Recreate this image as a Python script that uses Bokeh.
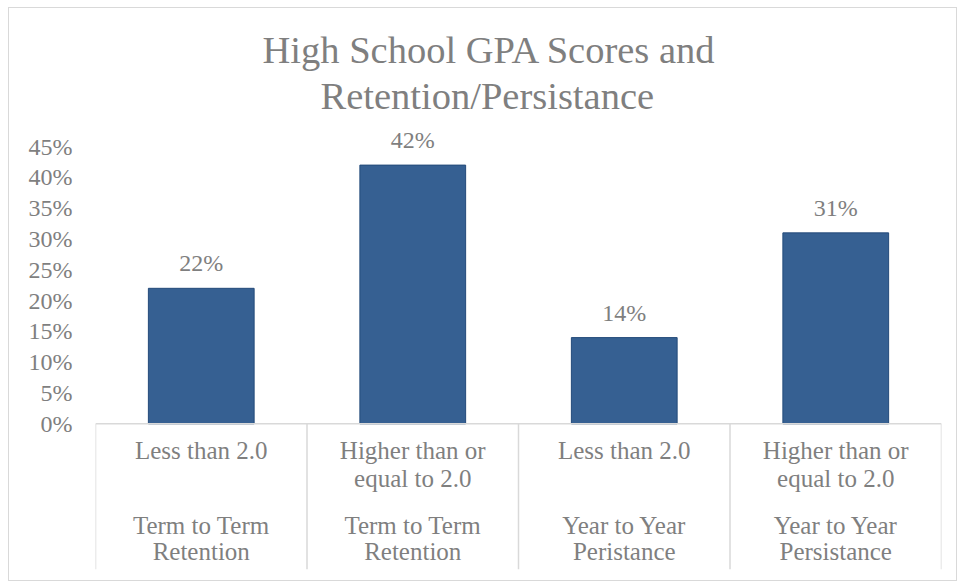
from bokeh.plotting import figure
from bokeh.models import Range1d, FixedTicker, NumeralTickFormatter, ColumnDataSource, Title
from bokeh.core.properties import value
from bokeh.embed import file_html
from bokeh.resources import INLINE

# ---- data ----
gpa_bands = ["Less than 2.0", "Higher than or\nequal to 2.0", "Less than 2.0", "Higher than or\nequal to 2.0"]
groups = ["Term to Term\nRetention", "Term to Term\nRetention", "Year to Year\nPeristance", "Year to Year\nPersistance"]
rates = [0.22, 0.42, 0.14, 0.31]
y_ticks = [0.0, 0.05, 0.10, 0.15, 0.20, 0.25, 0.30, 0.35, 0.40, 0.45]
title_lines = ["High School GPA Scores and", "Retention/Persistance"]

FONT = "Liberation Serif"
GRAY = "#7f7f7f"
LINE = "#d9d9d9"

n = len(rates)
y_axis_max = 0.45
px_per_unit = 276 / y_axis_max     # plot pixels per unit value
above_px = 28                       # room above the 45% tick for data labels
below_px = 145                      # room under the axis for category labels
y_top = y_axis_max + above_px / px_per_unit
y_min = -below_px / px_per_unit

def px_down(p):
    return -p / px_per_unit

centers = [i + 0.5 for i in range(n)]
labels = [f"{round(r * 100)}%" for r in rates]

src = ColumnDataSource(dict(x=centers, top=rates, lab=labels, band=gpa_bands, grp=groups))

p = figure(width=949, height=574, x_range=Range1d(0, n), y_range=Range1d(y_min, y_top),
           toolbar_location=None, output_backend="svg", title=None,
           min_border_left=86, min_border_right=17, min_border_bottom=13, min_border_top=110)
p.styles = {"border": f"1px solid {LINE}", "margin-left": "8px", "margin-top": "7px"}
p.outline_line_color = None
p.grid.visible = False
p.xaxis.visible = False
p.background_fill_color = "white"
p.border_fill_color = "white"

yax = p.yaxis[0]
yax.ticker = FixedTicker(ticks=y_ticks)
yax.formatter = NumeralTickFormatter(format="0%")
yax.axis_line_color = None
yax.major_tick_line_color = None
yax.minor_tick_line_color = None
yax.major_tick_out = 0
yax.major_tick_in = 0
yax.major_label_standoff = 23
yax.major_label_text_font = FONT
yax.major_label_text_font_size = "24px"
yax.major_label_text_color = GRAY

# title: two lines, centred over the whole chart (inner line added first)
for line, so, off in zip(reversed(title_lines), [3, 2], [225, 167]):
    p.add_layout(Title(text=line, align="left", text_font=FONT, text_font_size="38.5px",
                       text_font_style="normal", text_color=GRAY, standoff=so, offset=off), "above")

# bars
p.vbar(x="x", top="top", bottom=0, width=0.5, source=src,
       fill_color="#366092", line_color="#244a7a", line_width=1)

# data labels
p.text(x="x", y="top", text="lab", source=src, text_font=value(FONT), text_font_size="24px",
       text_color=GRAY, text_align="center", text_baseline="alphabetic", y_offset=-25)

# category axis lines
bounds = list(range(n + 1))
p.segment(x0=[0], y0=[0], x1=[n], y1=[0], line_color=LINE, line_width=1.5)
p.segment(x0=bounds, y0=[0] * len(bounds), x1=bounds, y1=[y_min] * len(bounds),
          line_color=LINE, line_width=1.5)

# category labels
p.text(x="x", y=px_down(13.5), text="band", source=src, text_font=value(FONT), text_font_size="25px",
       text_color=GRAY, text_align="center", text_baseline="top", text_line_height=1.02)
p.text(x="x", y=px_down(87.5), text="grp", source=src, text_font=value(FONT), text_font_size="25px",
       text_color=GRAY, text_align="center", text_baseline="top", text_line_height=0.98)

open("out.html", "w").write(file_html(p, INLINE))
